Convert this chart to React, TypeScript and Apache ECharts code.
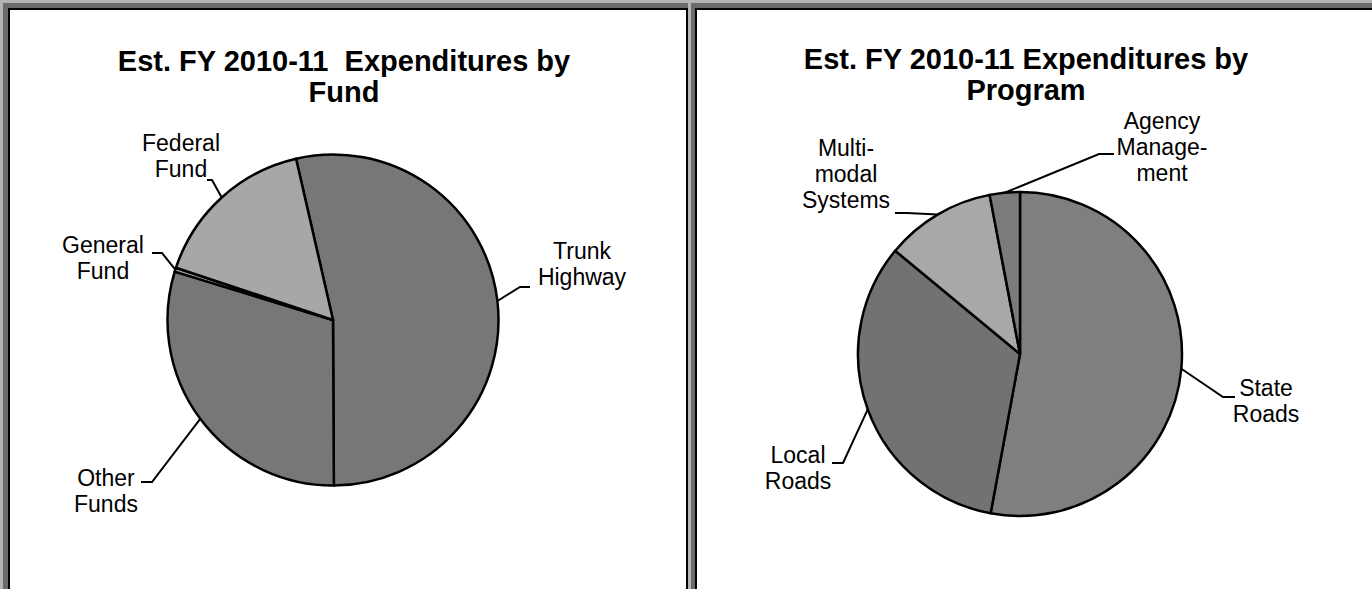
import React, { useEffect, useRef } from 'react';
import * as echarts from 'echarts';

// ---------- data ----------
const FUND_CATEGORIES = ['Trunk Highway', 'Other Funds', 'General Fund', 'Federal Fund'];
const FUND_VALUES = [53.5, 29.8, 0.4, 16.3];
const FUND_LABELS = ['Trunk\nHighway', 'Other\nFunds', 'General\nFund', 'Federal\nFund'];

const PROGRAM_CATEGORIES = ['State Roads', 'Local Roads', 'Multi-modal Systems', 'Agency Management'];
const PROGRAM_VALUES = [52.9, 33.1, 11.0, 3.0];
const PROGRAM_LABELS = ['State\nRoads', 'Local\nRoads', 'Multi-\nmodal\nSystems', 'Agency\nManage-\nment'];

const TITLES = ['Est. FY 2010-11  Expenditures by\nFund', 'Est. FY 2010-11 Expenditures by\nProgram'];

// ---------- styles / layout ----------
const FUND_COLORS = ['#777777', '#777777', '#9c9c9c', '#a7a7a7'];
const PROGRAM_COLORS = ['#7f7f7f', '#727272', '#a8a8a8', '#7b7b7b'];

const FUND_LABEL_POS = [
  { x: 582, y: 238, elbow: [520, 287], end: [530, 287] },
  { x: 106, y: 465, elbow: [152, 482], end: [141, 482] },
  { x: 103, y: 232, elbow: [162, 253], end: [152, 253] },
  { x: 181, y: 130, elbow: [212, 180], end: [207, 180] },
];
const PROGRAM_LABEL_POS = [
  { x: 1266, y: 375, elbow: [1223, 397], end: [1235, 397] },
  { x: 798, y: 442, elbow: [843, 463], end: [832, 463] },
  { x: 846, y: 135, elbow: [907, 213], end: [895, 213] },
  { x: 1162, y: 108, elbow: [1099, 154], end: [1114, 154] },
];

const FONT = "'Liberation Sans', Arial, Helvetica, sans-serif";

function makeLayout(pos: any[]) {
  return (params: any) => {
    const p = pos[params.dataIndex];
    const a = params.labelLinePoints && params.labelLinePoints[0] ? params.labelLinePoints[0] : p.elbow;
    return {
      x: p.x,
      y: p.y,
      align: 'center',
      verticalAlign: 'top',
      labelLinePoints: [a, p.elbow, p.end],
    };
  };
}

function makePie(cats: string[], vals: number[], labels: string[], colors: string[], center: number[], radius: number, startAngle: number, pos: any[]) {
  return {
    type: 'pie',
    center,
    radius,
    startAngle,
    clockwise: true,
    avoidLabelOverlap: false,
    data: cats.map((name, i) => ({ name, value: vals[i], itemStyle: { color: colors[i] } })),
    itemStyle: { borderColor: '#000', borderWidth: 2.5 },
    label: {
      show: true,
      position: 'outside',
      formatter: (p: any) => labels[p.dataIndex],
      color: '#000',
      fontFamily: FONT,
      fontSize: 23,
      lineHeight: 26,
    },
    labelLine: { show: true, length: 10, length2: 10, smooth: false, lineStyle: { color: '#000', width: 2 } },
    labelLayout: makeLayout(pos),
    emphasis: { disabled: true },
  };
}

function frame() {
  const r = (x: number, y: number, w: number, h: number, fill: string) => ({
    type: 'rect', shape: { x, y, width: w, height: h }, style: { fill }, silent: true, z: 100,
  });
  const W = 1372, H = 589;
  return [
    r(0, 0, W, 3, '#b4b4b4'),
    r(0, 3, W, 5, '#6b6b6b'),
    r(0, 0, 3, H, '#b4b4b4'),
    r(3, 3, 5, H, '#6b6b6b'),
    r(8, 8, 680, 2, '#000'),
    r(8, 8, 2, H, '#000'),
    r(686, 8, 2, H, '#000'),
    r(688, 0, 3, H, '#b4b4b4'),
    r(691, 3, 4, H, '#6b6b6b'),
    r(695, 8, W - 695, 2, '#000'),
    r(695, 8, 2, H, '#000'),
  ];
}

const TITLE_STYLE = { fontFamily: FONT, fontSize: 29, fontWeight: 'bold', color: '#000', lineHeight: 31 };

export default function App() {
  const ref = useRef<HTMLDivElement>(null);
  useEffect(() => {
    if (!ref.current) return;
    const chart = echarts.init(ref.current, null, { renderer: 'svg' });
    chart.setOption({
      animation: false,
      backgroundColor: '#fff',
      title: [
        { text: TITLES[0], left: 344, top: 45, textAlign: 'center', padding: 0, textStyle: TITLE_STYLE },
        { text: TITLES[1], left: 1026, top: 43, textAlign: 'center', padding: 0, textStyle: TITLE_STYLE },
      ],
      graphic: frame(),
      series: [
        makePie(FUND_CATEGORIES, FUND_VALUES, FUND_LABELS, FUND_COLORS, [333, 320], 165.5, 102.9, FUND_LABEL_POS),
        makePie(PROGRAM_CATEGORIES, PROGRAM_VALUES, PROGRAM_LABELS, PROGRAM_COLORS, [1020, 354], 162, 90, PROGRAM_LABEL_POS),
      ],
    });
    return () => chart.dispose();
  }, []);
  return <div ref={ref} style={{ position: 'absolute', left: 0, top: 0, width: 1372, height: 589 }} />;
}
